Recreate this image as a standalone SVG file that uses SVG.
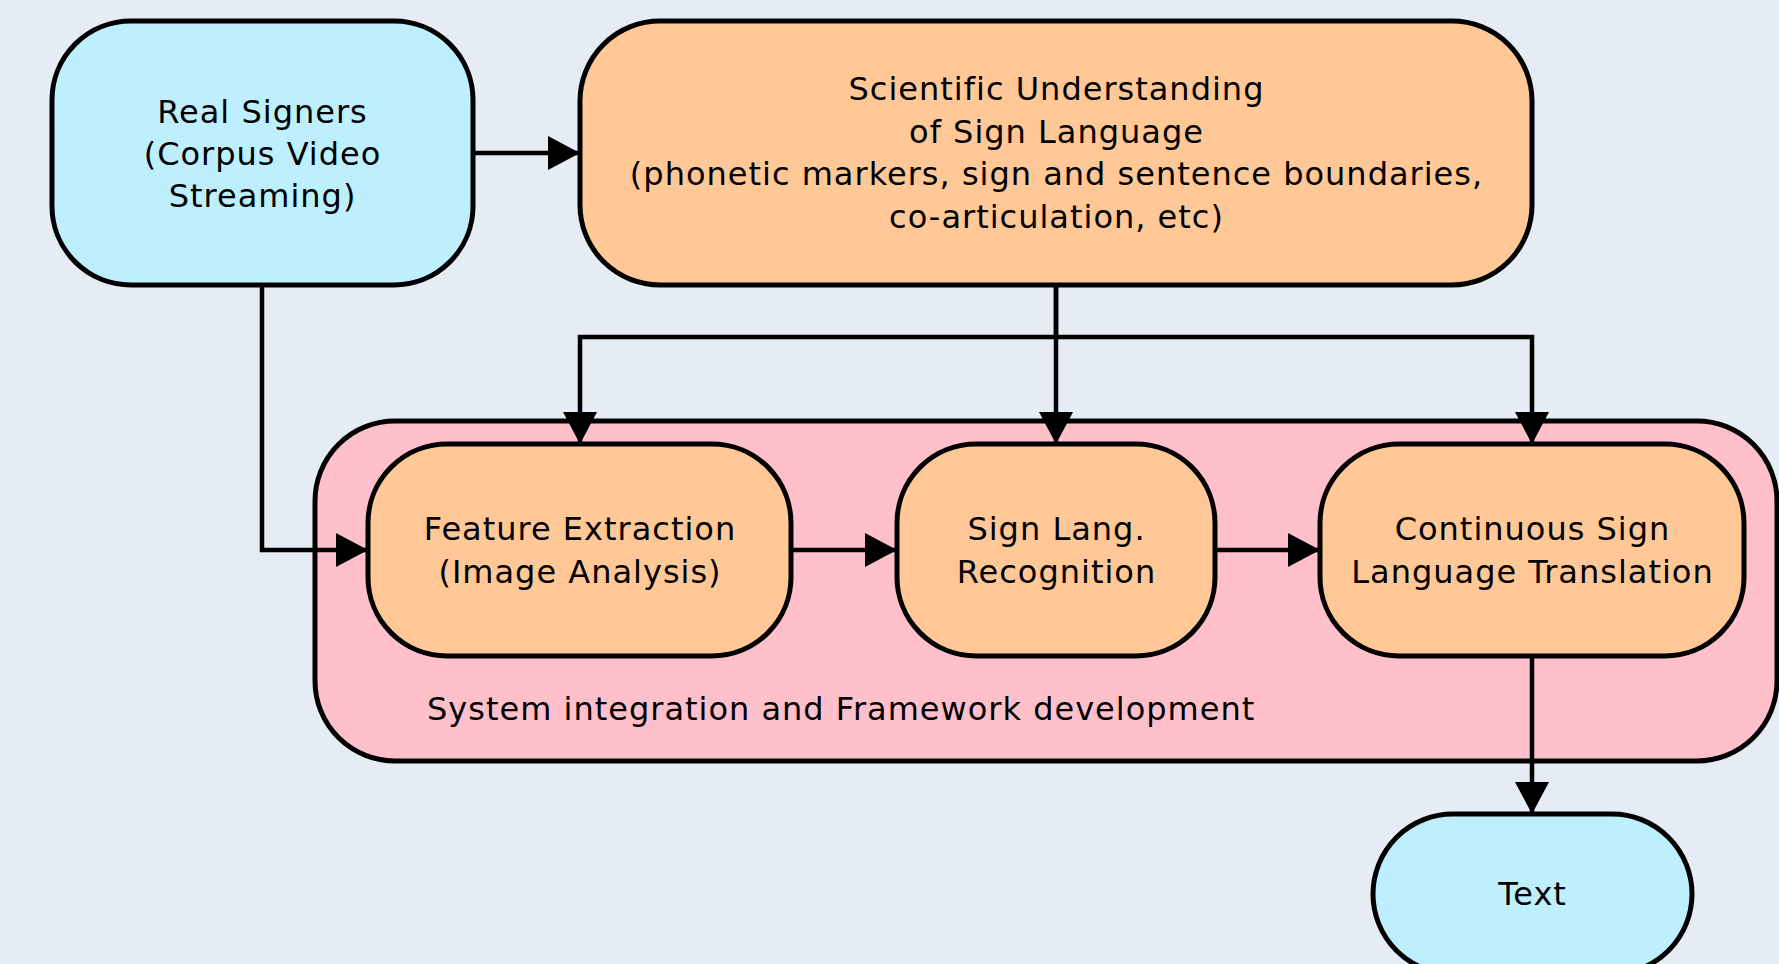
<svg xmlns="http://www.w3.org/2000/svg" width="1779" height="964" viewBox="0 0 1779 964">
<style>
.node{stroke:#000;stroke-width:5}
.blue{fill:#BEEFFF}
.orange{fill:#FFC896}
.pink{fill:#FFC0CB}
.lbl{font-family:"DejaVu Sans",sans-serif;font-size:32px;letter-spacing:1px;fill:#000;text-anchor:middle}
.conn{fill:none;stroke:#000;stroke-width:4.5}
</style>
<defs>
<marker id="arr" markerUnits="userSpaceOnUse" markerWidth="32" markerHeight="34" refX="32" refY="17" orient="auto">
<path d="M0,0 L32,17 L0,34 z" fill="#000"/>
</marker>
</defs>
<rect x="0" y="0" width="1779" height="964" fill="#E6ECF4"/>
<g id="container">
<rect class="node pink" x="315" y="421" width="1462" height="340" rx="80" ry="80"/>
<text class="lbl" x="427" y="720" style="text-anchor:start">System integration and Framework development</text>
</g>
<g id="real-signers">
<rect class="node blue" x="52" y="21" width="421" height="264" rx="79" ry="79"/>
<text class="lbl" x="262.5" y="123">Real Signers</text>
<text class="lbl" x="262.5" y="165">(Corpus Video</text>
<text class="lbl" x="262.5" y="207">Streaming)</text>
</g>
<g id="scientific">
<rect class="node orange" x="580" y="21" width="952" height="264" rx="80" ry="80"/>
<text class="lbl" x="1056.5" y="100">Scientific Understanding</text>
<text class="lbl" x="1056.5" y="143">of Sign Language</text>
<text class="lbl" x="1056.5" y="185">(phonetic markers, sign and sentence boundaries,</text>
<text class="lbl" x="1056.5" y="228">co-articulation, etc)</text>
</g>
<g id="feature">
<rect class="node orange" x="368" y="444" width="423" height="212" rx="79" ry="79"/>
<text class="lbl" x="580" y="540">Feature Extraction</text>
<text class="lbl" x="580" y="583">(Image Analysis)</text>
</g>
<g id="recognition">
<rect class="node orange" x="897" y="444" width="318" height="212" rx="79" ry="79"/>
<text class="lbl" x="1056.5" y="540">Sign Lang.</text>
<text class="lbl" x="1056.5" y="583">Recognition</text>
</g>
<g id="translation">
<rect class="node orange" x="1320" y="444" width="424" height="212" rx="79" ry="79"/>
<text class="lbl" x="1532.5" y="540">Continuous Sign</text>
<text class="lbl" x="1532.5" y="583">Language Translation</text>
</g>
<g id="text-node">
<rect class="node blue" x="1373" y="814" width="319" height="160" rx="80" ry="80"/>
<text class="lbl" x="1532.5" y="905">Text</text>
</g>
<g id="connectors">
<path class="conn" d="M473,153 H580" marker-end="url(#arr)"/>
<path class="conn" d="M262,285 V550 H368" marker-end="url(#arr)"/>
<path class="conn" d="M1056,285 V337 H580 V444" marker-end="url(#arr)"/>
<path class="conn" d="M1056,285 V444" marker-end="url(#arr)"/>
<path class="conn" d="M1056,337 H1532 V444" marker-end="url(#arr)"/>
<path class="conn" d="M791,550 H897" marker-end="url(#arr)"/>
<path class="conn" d="M1215,550 H1320" marker-end="url(#arr)"/>
<path class="conn" d="M1532,656 V814" marker-end="url(#arr)"/>
</g>
</svg>
